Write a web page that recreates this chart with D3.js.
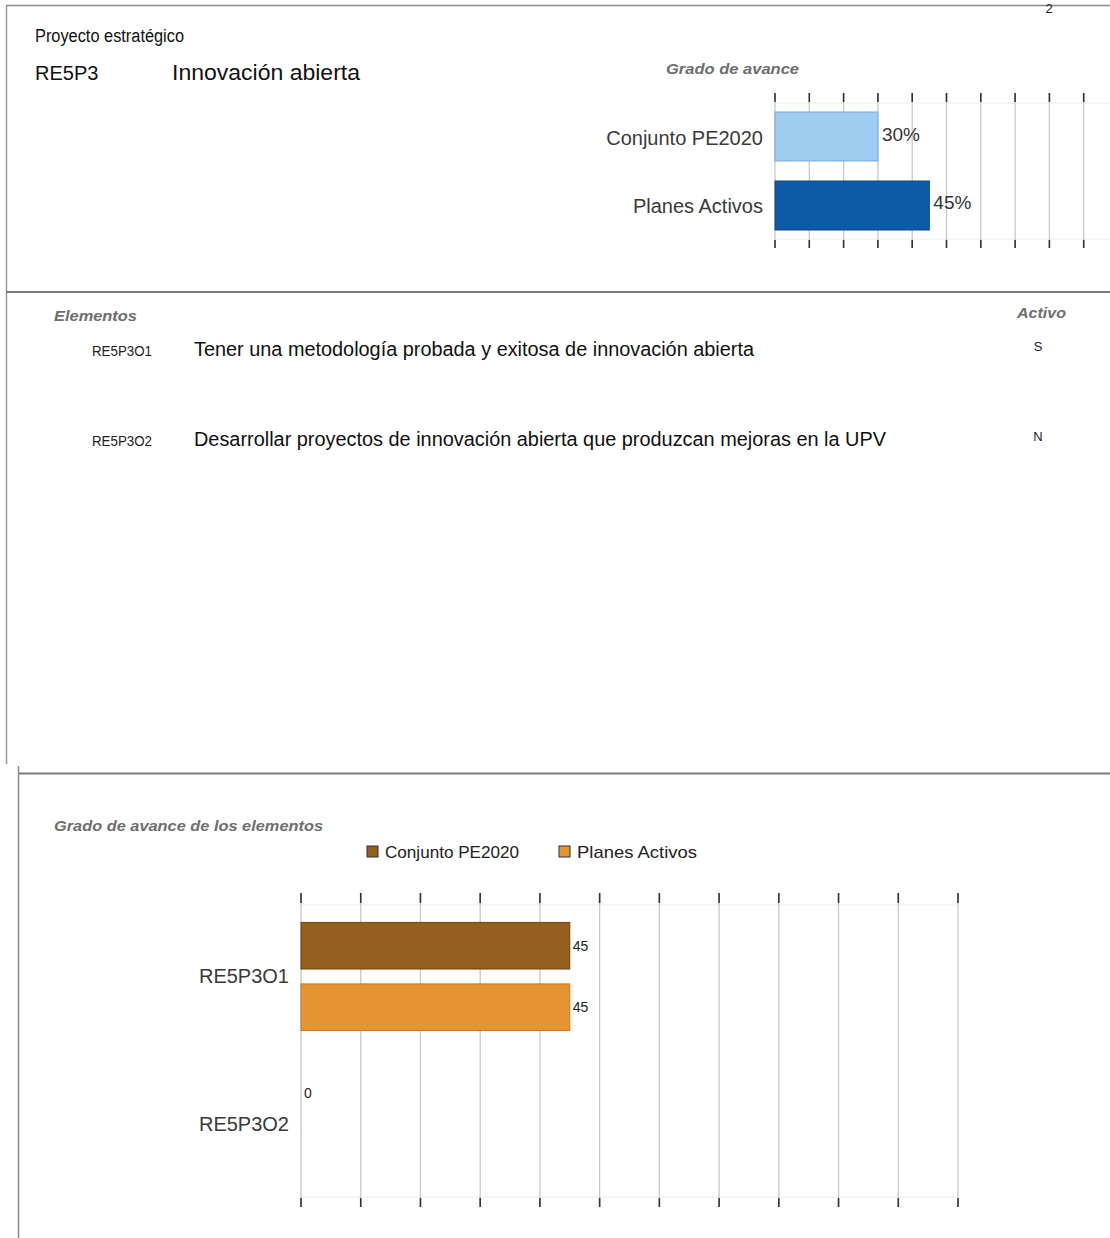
<!DOCTYPE html>
<html><head><meta charset="utf-8">
<script src="https://cdn.jsdelivr.net/npm/d3@7"></script>
<style>
html,body{margin:0;padding:0;background:#fff;}
svg{display:block;}
</style></head>
<body>
<svg id="c" width="1110" height="1238"></svg>
<script>
// ---- data ----
const projectCode = "RE5P3";
const projectName = "Innovación abierta";
const overallCategories = ["Conjunto PE2020", "Planes Activos"];
const overallValues = [30, 45];
const overallLabels = ["30%", "45%"];
const elementCodes = ["RE5P3O1", "RE5P3O2"];
const elementNames = ["Tener una metodología probada y exitosa de innovación abierta",
  "Desarrollar proyectos de innovación abierta que produzcan mejoras en la UPV"];
const elementActive = ["S", "N"];
const seriesNames = ["Conjunto PE2020", "Planes Activos"];
const conjuntoValues = [45, 0];
const planesValues = [45, null];
const axisTicks = [0, 10, 20, 30, 40, 50, 60, 70, 80, 90, 100, 110];

const svg = d3.select("#c");
const sans = "'Liberation Sans',Arial,sans-serif";

// text helper; optional fitted width to mimic the condensed face of the original
function txt(x, y, t, size, opts) {
  opts = opts || {};
  const el = svg.append("text").attr("x", x).attr("y", y)
    .attr("font-family", sans).attr("font-size", size)
    .attr("fill", opts.fill || "#111").attr("text-anchor", opts.anchor || "start").text(t);
  if (opts.italic) el.attr("font-style", "italic");
  if (opts.bold) el.attr("font-weight", "bold");
  if (opts.w) el.attr("textLength", opts.w).attr("lengthAdjust", "spacingAndGlyphs");
  return el;
}

// ---- frames ----
const frame = svg.append("g").attr("fill", "none");
frame.append("line").attr("x1", 6).attr("x2", 1110).attr("y1", 5.5).attr("y2", 5.5).attr("stroke", "#8a8a8a").attr("stroke-width", 1.5);
frame.append("line").attr("x1", 6.5).attr("x2", 6.5).attr("y1", 5).attr("y2", 764).attr("stroke", "#9a9a9a").attr("stroke-width", 1.5);
frame.append("line").attr("x1", 6).attr("x2", 1110).attr("y1", 292).attr("y2", 292).attr("stroke", "#7a7a7a").attr("stroke-width", 2.2);
frame.append("line").attr("x1", 18).attr("x2", 1110).attr("y1", 773.5).attr("y2", 773.5).attr("stroke", "#7a7a7a").attr("stroke-width", 2.2);
frame.append("line").attr("x1", 18.5).attr("x2", 18.5).attr("y1", 766).attr("y2", 1238).attr("stroke", "#8a8a8a").attr("stroke-width", 1.5);
txt(1049, 13, "2", 13, { anchor: "middle", fill: "#222" });

// ---- header texts ----
txt(35, 42, "Proyecto estratégico", 18, { w: 149 });
txt(35, 80, projectCode, 20);
txt(172, 80, projectName, 22, { w: 188 });

function sectionTitle(x, y, t, w, anchor) {
  txt(x, y, t, 14, { italic: true, bold: true, fill: "#6e6e6e", w: w, anchor: anchor });
}
sectionTitle(666, 74, "Grado de avance", 133);

// ---- top chart ----
const x1 = d3.scaleLinear().domain([0, 110]).range([775, 775 + 110 * 3.43]);
const y1 = d3.scaleBand().domain(overallCategories).range([96, 246]).paddingInner(0.29).paddingOuter(0.232);
const gTop = svg.append("g");
const tTop = 93, tBot = 248;
gTop.selectAll(".hl").data([103, 239]).join("line")
  .attr("x1", 775).attr("x2", 1110).attr("y1", d => d).attr("y2", d => d).attr("stroke", "#ececec");
gTop.selectAll(".gl").data(axisTicks).join("line")
  .attr("x1", d => x1(d)).attr("x2", d => x1(d)).attr("y1", tTop).attr("y2", tBot)
  .attr("stroke", "#c8c8c8").attr("stroke-width", 1.3);
gTop.selectAll(".tt").data(axisTicks).join("line")
  .attr("x1", d => x1(d)).attr("x2", d => x1(d)).attr("y1", tTop).attr("y2", 102)
  .attr("stroke", "#333").attr("stroke-width", 1.6);
gTop.selectAll(".tb").data(axisTicks).join("line")
  .attr("x1", d => x1(d)).attr("x2", d => x1(d)).attr("y1", 240).attr("y2", tBot)
  .attr("stroke", "#333").attr("stroke-width", 1.6);
const topFill = ["#9fcdf0", "#0d5aa7"];
const topStroke = ["#74ade0", "#0a4787"];
gTop.selectAll(".bar").data(overallValues).join("rect")
  .attr("x", x1(0)).attr("y", (d, i) => y1(overallCategories[i]))
  .attr("width", d => x1(d) - x1(0)).attr("height", y1.bandwidth())
  .attr("fill", (d, i) => topFill[i]).attr("stroke", (d, i) => topStroke[i]);
gTop.selectAll(".vl").data(overallValues).join("text")
  .attr("x", d => x1(d) + 4).attr("y", (d, i) => y1(overallCategories[i]) + y1.bandwidth() / 2 + 4)
  .attr("font-family", sans).attr("font-size", 19).attr("fill", "#333")
  .text((d, i) => overallLabels[i]);
gTop.selectAll(".cl").data(overallCategories).join("text")
  .attr("x", 763).attr("y", d => y1(d) + y1.bandwidth() / 2 + 8).attr("text-anchor", "end")
  .attr("font-family", sans).attr("font-size", 20).attr("fill", "#3a3a3a").text(d => d);

// ---- elements list ----
sectionTitle(54, 321, "Elementos", 83);
sectionTitle(1017, 318, "Activo", 49);
const rowY = [350, 440];
const nameW = [560, 692];
elementCodes.forEach((c, i) => {
  txt(92, rowY[i] + 6, c, 14, { fill: "#222", w: 60 });
  txt(194, rowY[i] + 6, elementNames[i], 20, { w: nameW[i] });
  txt(1038, rowY[i] + 1, elementActive[i], 13, { anchor: "middle", fill: "#222" });
});

// ---- bottom chart ----
sectionTitle(54, 831, "Grado de avance de los elementos", 269);
const seriesFill = ["#925f1f", "#e59433"];
const seriesStroke = ["#6e4514", "#c9791f"];
const legX = [367, 559];
const legW = [134, 120];
seriesNames.forEach((s, i) => {
  svg.append("rect").attr("x", legX[i]).attr("y", 846).attr("width", 11).attr("height", 11)
    .attr("fill", seriesFill[i]).attr("stroke", "#333").attr("stroke-width", 1);
  txt(legX[i] + 18, 858, s, 17, { fill: "#222", w: legW[i] });
});

const x2 = d3.scaleLinear().domain([0, 110]).range([301, 958]);
const y2 = d3.scaleBand().domain(elementCodes).range([893, 1207]).paddingInner(0.265).paddingOuter(0.2);
const ys = d3.scaleBand().domain(seriesNames).range([0, y2.bandwidth()]).paddingInner(0.242);
const gBot = svg.append("g");
gBot.selectAll(".hl").data([905, 1197]).join("line")
  .attr("x1", 301).attr("x2", 958).attr("y1", d => d).attr("y2", d => d).attr("stroke", "#ececec");
gBot.selectAll(".gl").data(axisTicks).join("line")
  .attr("x1", d => x2(d)).attr("x2", d => x2(d)).attr("y1", 893).attr("y2", 1207)
  .attr("stroke", "#c8c8c8").attr("stroke-width", 1.3);
gBot.selectAll(".tt").data(axisTicks).join("line")
  .attr("x1", d => x2(d)).attr("x2", d => x2(d)).attr("y1", 893).attr("y2", 903)
  .attr("stroke", "#333").attr("stroke-width", 1.6);
gBot.selectAll(".tb").data(axisTicks).join("line")
  .attr("x1", d => x2(d)).attr("x2", d => x2(d)).attr("y1", 1198).attr("y2", 1207)
  .attr("stroke", "#333").attr("stroke-width", 1.6);

const rows = [];
elementCodes.forEach((c, i) => {
  [conjuntoValues[i], planesValues[i]].forEach((v, j) => {
    if (v !== null) rows.push({ cat: c, s: seriesNames[j], j, v });
  });
});
gBot.selectAll(".bar").data(rows.filter(d => d.v > 0)).join("rect")
  .attr("x", x2(0)).attr("y", d => y2(d.cat) + ys(d.s))
  .attr("width", d => x2(d.v) - x2(0)).attr("height", ys.bandwidth())
  .attr("fill", d => seriesFill[d.j]).attr("stroke", d => seriesStroke[d.j]);
gBot.selectAll(".vl").data(rows).join("text")
  .attr("x", d => x2(d.v) + 3).attr("y", d => y2(d.cat) + ys(d.s) + ys.bandwidth() / 2 + 5)
  .attr("font-family", sans).attr("font-size", 14).attr("fill", "#222").text(d => d.v);
gBot.selectAll(".cl").data(elementCodes).join("text")
  .attr("x", 289).attr("y", d => y2(d) + y2.bandwidth() / 2 + 7).attr("text-anchor", "end")
  .attr("font-family", sans).attr("font-size", 20).attr("fill", "#3a3a3a").text(d => d);
</script>
</body></html>
